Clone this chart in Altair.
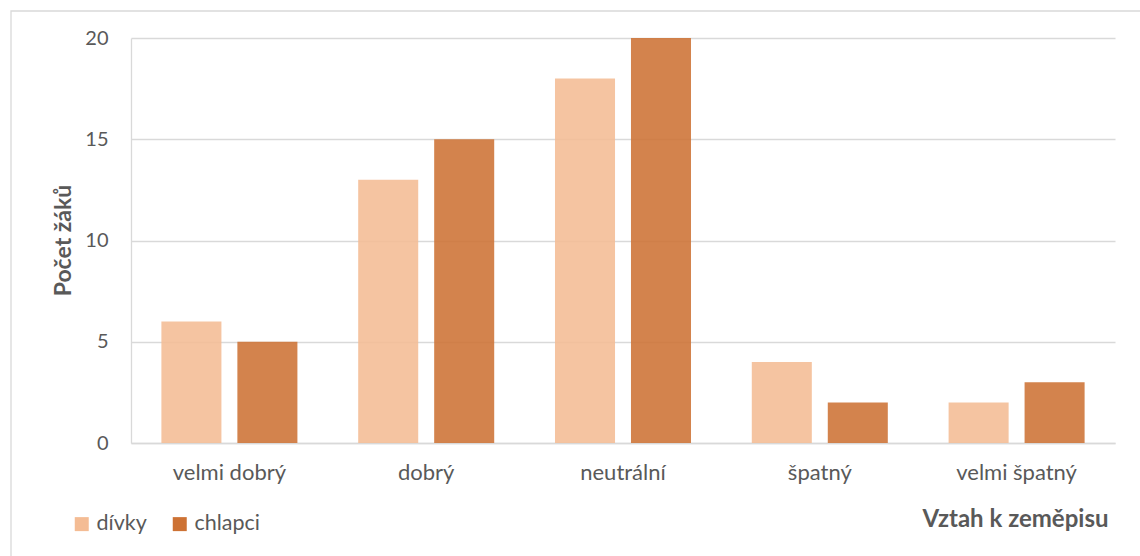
import altair as alt
import pandas as pd

# Attitude categories (x axis) and pupil counts per group
categories = ["velmi dobrý", "dobrý", "neutrální", "špatný", "velmi špatný"]
divky = [6, 13, 18, 4, 2]
chlapci = [5, 15, 20, 2, 3]
groups = ["dívky", "chlapci"]
group_colors = ["#F4BC94", "#CD7234"]
y_ticks = [0, 5, 10, 15, 20]

rows = []
for cat, d, c in zip(categories, divky, chlapci):
    rows.append({"vztah": cat, "skupina": "dívky", "pocet": d})
    rows.append({"vztah": cat, "skupina": "chlapci", "pocet": c})
df = pd.DataFrame(rows)

FONT = "Lato"
TEXT = "#595959"
GRID = "#D9D9D9"

bars = alt.Chart(df).mark_bar(fillOpacity=0.88).encode(
    x=alt.X(
        "vztah:N",
        sort=categories,
        scale=alt.Scale(paddingInner=0, paddingOuter=0),
        axis=alt.Axis(
            title="Vztah k zeměpisu",
            labelAngle=0,
            labelFontSize=22,
            ticks=False,
            grid=False,
            domainColor=GRID,
            domainWidth=1.3,
            labelPadding=19,
            titleFontSize=24,
            titleAnchor="end",
            titleAlign="right",
            titleX=977,
            titleY=76,
            titleBaseline="middle",
        ),
    ),
    xOffset=alt.XOffset(
        "skupina:N",
        sort=groups,
        scale=alt.Scale(paddingInner=0.21, paddingOuter=0.4),
    ),
    y=alt.Y(
        "pocet:Q",
        scale=alt.Scale(domain=[0, 20], nice=False),
        axis=alt.Axis(
            title="Počet žáků",
            values=y_ticks,
            ticks=False,
            grid=True,
            gridColor=GRID,
            gridWidth=1.3,
            domain=True,
            domainColor=GRID,
            domainWidth=1.3,
            labelFontSize=20,
            labelPadding=23,
            titleFontSize=23,
            titleX=-68,
            titleY=202,
            titleAngle=-90,
            titleAlign="center",
            titleBaseline="middle",
        ),
    ),
    color=alt.Color(
        "skupina:N",
        sort=groups,
        scale=alt.Scale(domain=groups, range=group_colors),
        legend=alt.Legend(
            title=None,
            orient="none",
            direction="horizontal",
            legendX=-60,
            legendY=475,
            symbolType="square",
            symbolSize=196,
            symbolStrokeWidth=0,
            symbolOpacity=1,
            labelOffset=4,
            columnPadding=22,
        ),
    ),
)

# thin outer frame of the chart
frame = alt.Chart(pd.DataFrame({"k": [0]})).mark_rect(
    fill=None, stroke=GRID, strokeWidth=1.3
).encode(
    x=alt.value(-120),
    x2=alt.value(1030),
    y=alt.value(-27),
    y2=alt.value(540),
)

chart = (
    alt.layer(frame, bars)
    .properties(
        width=984,
        height=405,
        autosize=alt.AutoSizeParams(type="none"),
        padding={"left": 131, "top": 38, "right": 25, "bottom": 113},
        background="white",
    )
    .configure_view(stroke=None)
    .configure_axis(
        labelFont=FONT,
        labelColor=TEXT,
        titleFont=FONT,
        titleFontWeight="bold",
        titleColor=TEXT,
    )
    .configure_legend(
        labelFont=FONT,
        labelFontSize=21.5,
        labelColor=TEXT,
    )
)

chart.save("out.html", embed_options={"renderer": "svg", "actions": False})
